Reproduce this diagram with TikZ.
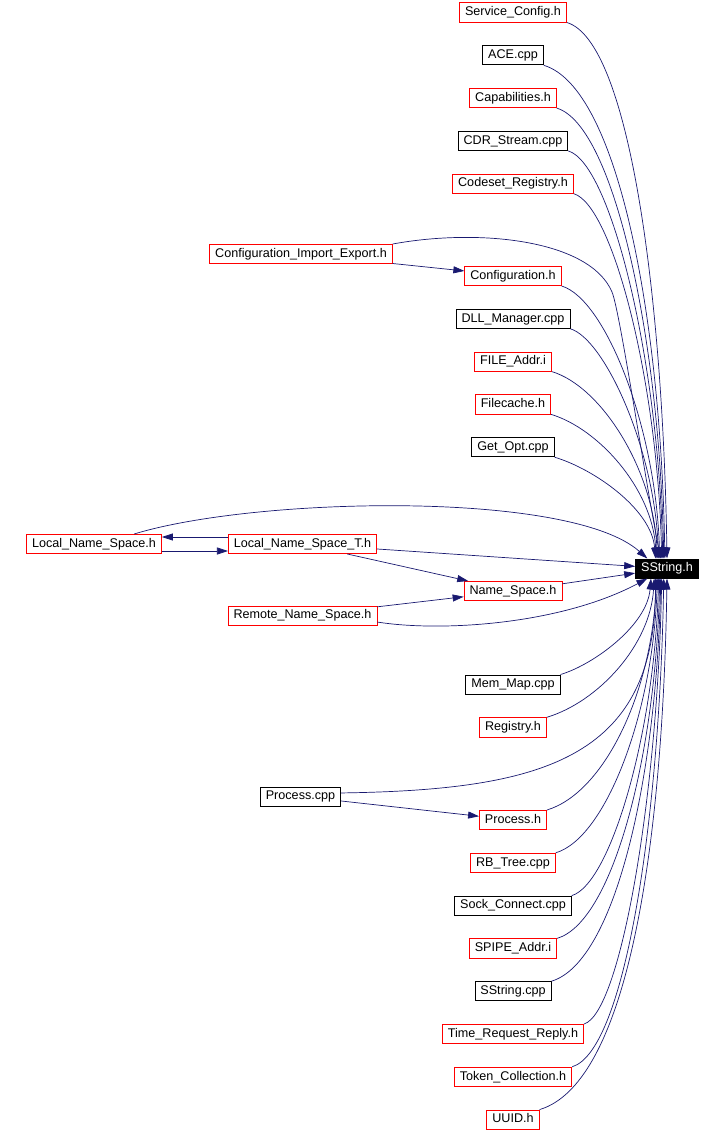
\documentclass[tikz,border=0pt]{standalone}
\usepackage{fontspec}
\setmainfont{Liberation Sans}
\usetikzlibrary{arrows.meta}
\definecolor{edgeblue}{HTML}{191970}

\begin{document}
\begin{tikzpicture}[x=1pt,y=-1pt,node distance=42.8pt,
   inc/.style={draw=edgeblue,line width=0.7pt,-{Triangle[length=11pt,width=7pt]}},
   include file/.style={draw,line width=0.8pt,font=\fontsize{12.6}{14}\selectfont,
     inner xsep=5.5pt,inner ysep=3.5pt,text height=9.4pt,text depth=2.8pt},
   red file/.style={include file,draw=red},
   black file/.style={include file,draw=black},
   main file/.style={include file,fill=black,text=white}]

  \useasboundingbox (0,0) rectangle (724,1131);

  \node[main file] (sstr) at (667,568.5) {SString.h};

  \node[red file] (svc) at (513,12.5) {Service\_Config.h};
  \node[black file] (ace) [below of=svc] {ACE.cpp};
  \node[red file] (capab) [below of=ace] {Capabilities.h};
  \node[black file] (cdr) [below of=capab] {CDR\_Stream.cpp};
  \node[red file] (codeset) [below of=cdr] {Codeset\_Registry.h};
  \node[red file] (cie) at (301,254) {Configuration\_Import\_Export.h};
  \node[red file] (config) at (513,276) {Configuration.h};
  \node[black file] (dll) [below of=config] {DLL\_Manager.cpp};
  \node[red file] (fileaddr) [below of=dll] {FILE\_Addr.i};
  \node[red file] (filecache) [below of=fileaddr] {Filecache.h};
  \node[black file] (getopt) [below of=filecache] {Get\_Opt.cpp};

  \node[red file] (lns) at (94,544) {Local\_Name\_Space.h};
  \node[red file] (lnst) at (302.5,544) {Local\_Name\_Space\_T.h};
  \node[red file] (ns) at (513,591) {Name\_Space.h};
  \node[red file] (rns) at (302.5,615.5) {Remote\_Name\_Space.h};

  \node[black file] (memmap) at (513,684.5) {Mem\_Map.cpp};
  \node[red file] (registry) [below of=memmap] {Registry.h};
  \node[black file] (pcpp) at (300.5,796.5) {Process.cpp};
  \node[red file] (ph) at (513,820) {Process.h};
  \node[red file] (rbtree) [below of=ph] {RB\_Tree.cpp};
  \node[black file] (sock) [below of=rbtree] {Sock\_Connect.cpp};
  \node[red file] (spipe) [below of=sock] {SPIPE\_Addr.i};
  \node[black file] (sscpp) [below of=spipe] {SString.cpp};
  \node[red file] (trr) [below of=sscpp] {Time\_Request\_Reply.h};
  \node[red file] (token) [below of=trr] {Token\_Collection.h};
  \node[red file] (uuid) [below of=token] {UUID.h};

  % upper fan
  \foreach \from/\ang/\cx/\h in {svc/90/63/258, ace/102/75/237, capab/108/58/216,
      cdr/113/43/196, codeset/118/39/176, config/126/44/131, dll/130/34/110,
      fileaddr/134/49/90, filecache/137/47/70, getopt/139/40/49}
    \draw[inc] (\from.south east) .. controls +(\cx,0.3*\cx) and +(-4,-\h) .. (sstr.\ang);

  % lower fan
  \foreach \from/\ang/\cx/\h in {memmap/-148/33/47, registry/-142/51/67, ph/-137/58/112,
      rbtree/-134/51/132, sock/-130/39/153, spipe/-126/57/173, sscpp/-122/65/194,
      trr/-118/37/214, token/-108/54/234, uuid/-90/91/255}
    \draw[inc] (\from.north east) .. controls +(\cx,-0.3*\cx) and +(-4,\h) .. (sstr.\ang);

  \draw[inc] (cie) -- (config);
  \draw[inc] (cie.north east) .. controls (480,228) and (590,240) .. (612,292)
     .. controls (620,311) and (645,480) .. (sstr.122);

  \draw[inc] ([yshift=7pt]lnst.west) -- ([yshift=7pt]lns.east);
  \draw[inc] ([yshift=-7pt]lns.east) -- ([yshift=-7pt]lnst.west);
  \draw[inc] (lns.14) .. controls (255,497) and (570,490) .. (sstr.153);
  \draw[inc] (lnst) -- (sstr);
  \draw[inc] (lnst) -- (ns);
  \draw[inc] (rns) -- (ns);
  \draw[inc] (ns) -- (sstr);
  \draw[inc] (rns.-5) .. controls (440,632) and (560,625) .. (sstr.-153);

  \draw[inc] (pcpp) -- (ph);
  \draw[inc] (pcpp.5) .. controls (540,790) and (655,760) .. (sstr.-139);
\end{tikzpicture}
\end{document}
